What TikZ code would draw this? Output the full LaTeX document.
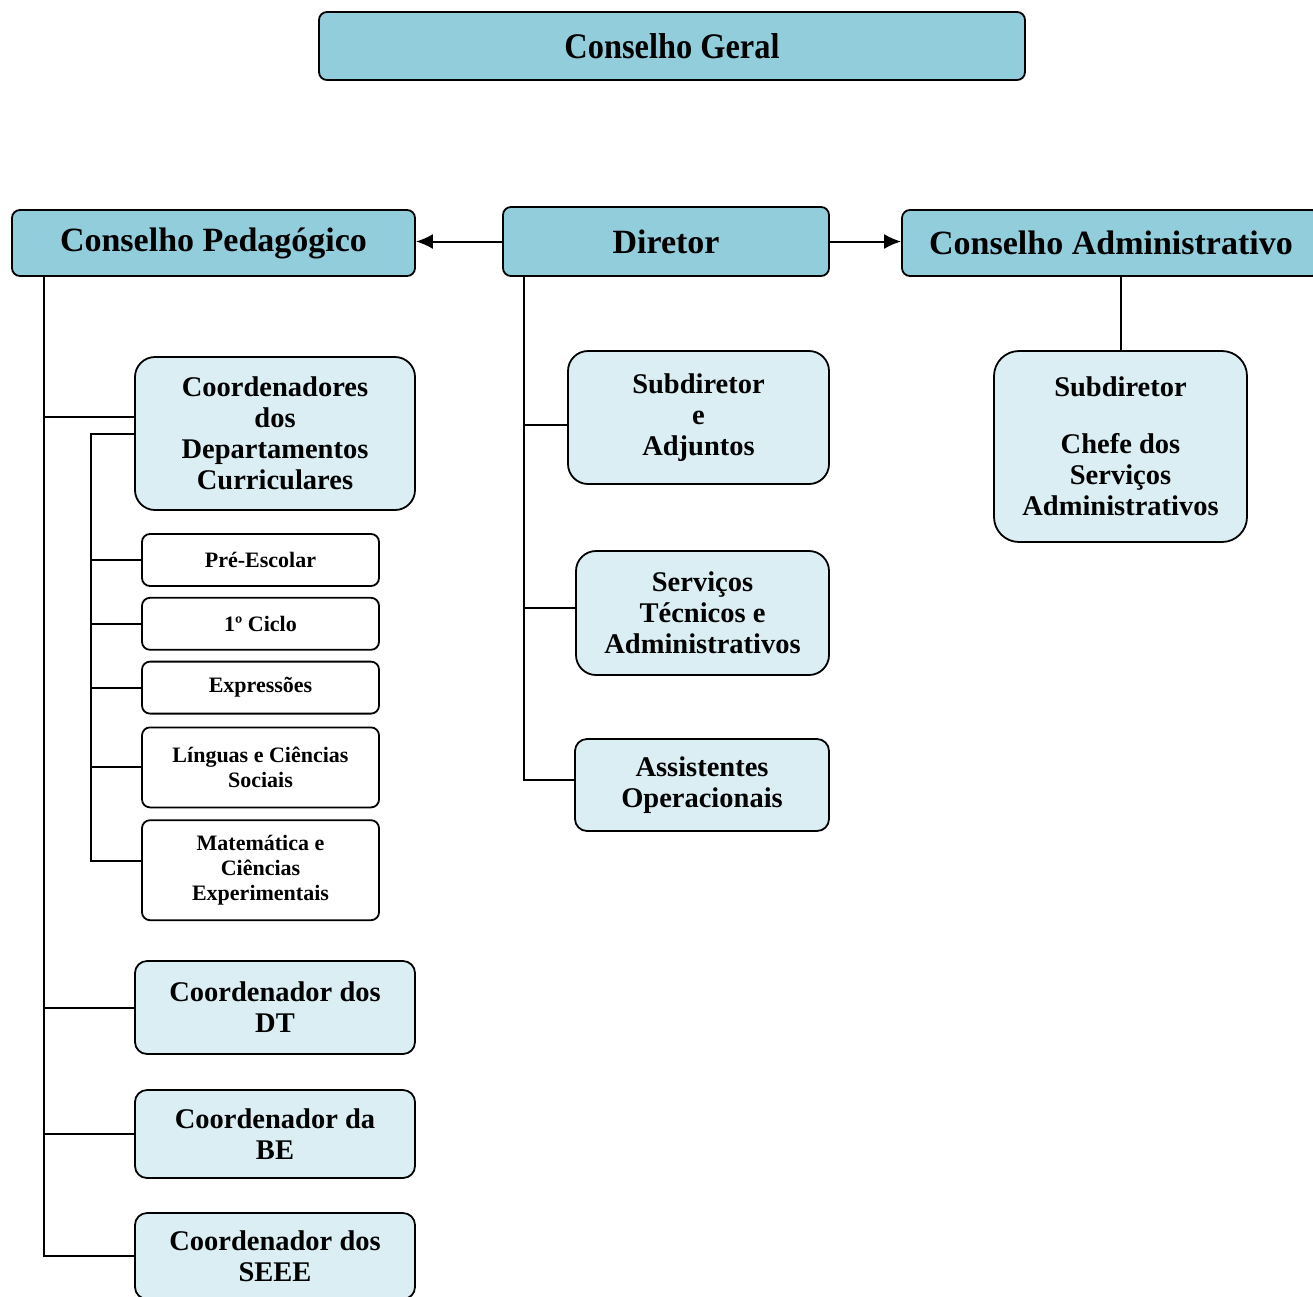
\documentclass[tikz,border=0pt]{standalone}
\usepackage{fontspec}
\setmainfont{Liberation Serif}
\newfontfamily\narrowfont{Liberation Serif}[FakeStretch=0.9]
\usepackage{tikz}
\usetikzlibrary{
    arrows.meta,  % For arrow tips
    calc,         % For coordinate calculations
    positioning   % For relative placement
}

\definecolor{darkteal}{RGB}{146,205,220}
\definecolor{lightteal}{RGB}{218,238,243}

\newcommand\bigsize{\fontsize{34}{38}\selectfont}
\newcommand\midsize{\fontsize{28.5}{31}\selectfont}
\newcommand\smallsize{\fontsize{22}{25}\selectfont}

\begin{document}
\begin{tikzpicture}[
    x=1pt, y=-1pt,  % work in picture pixels, y downwards
    link/.style={line width=2pt},  % Connector lines
    arrowlink/.style={line width=2pt, -{Latex[length=17pt, width=15pt]}}, % Arrows from Diretor
    topbox/.style={draw, line width=1.8pt, rounded corners=8pt, fill=darkteal,
        font=\bigsize\bfseries, inner sep=0pt}, % Top level boxes
    midbox/.style={draw, line width=1.8pt, rounded corners=20pt, fill=lightteal,
        font=\midsize\bfseries, align=center, inner sep=0pt}, % Second level boxes
    subbox/.style={draw, line width=1.8pt, rounded corners=8pt, fill=white,
        font=\smallsize\bfseries, align=center, inner sep=0pt, minimum width=237pt} % Departments
]
    \useasboundingbox (0,0) rectangle (1313,1296);

    % Top level
    \node[topbox, minimum width=706pt, minimum height=68pt, font=\fontsize{36}{40}\narrowfont\bfseries]
        (cg) at (672,46) {Conselho Geral};
    \node[topbox, minimum width=403pt, minimum height=66pt] (cp) at (213.5,243) {Conselho Pedagógico};
    \node[topbox, minimum width=326pt, minimum height=69pt] (dir) at (666,241.5) {Diretor};
    \node[topbox, minimum width=418pt, minimum height=66pt] (ca) at (1111,243) {Conselho Administrativo};

    % Conselho Pedagogico branch
    \node[midbox, minimum width=280pt, minimum height=153pt] (cdc) at (275,433.5)
        {Coordenadores\\dos\\Departamentos\\Curriculares};
    \node[subbox, minimum height=52pt] (pre) at (260.5,560) {Pré-Escolar};
    \node[subbox, minimum height=52pt, below=10pt of pre] (cic) {1º Ciclo};
    \node[subbox, minimum height=52pt, below=10pt of cic] (exp) {Expressões};
    \node[subbox, minimum height=80pt, below=12pt of exp] (lcs) {Línguas e Ciências\\Sociais};
    \node[subbox, minimum height=100pt, below=11pt of lcs] (mce) {Matemática e\\Ciências\\Experimentais};
    \node[midbox, rounded corners=12pt, minimum width=280pt, minimum height=93pt] (cdt) at (275,1007.5)
        {Coordenador dos\\DT};
    \node[midbox, rounded corners=12pt, minimum width=280pt, minimum height=88pt] (cbe) at (275,1134)
        {Coordenador da\\BE};
    \node[midbox, rounded corners=12pt, minimum width=280pt, minimum height=86pt] (cse) at (275,1256)
        {Coordenador dos\\SEEE};

    % Diretor branch
    \node[midbox, minimum width=261pt, minimum height=133pt] (sda) at (698.5,417.5)
        {Subdiretor\\e\\Adjuntos};
    \node[midbox, minimum width=253pt, minimum height=124pt] (ste) at (702.5,613)
        {Serviços\\Técnicos e\\Administrativos};
    \node[midbox, rounded corners=12pt, minimum width=254pt, minimum height=92pt] (aop) at (702,785)
        {Assistentes\\Operacionais};

    % Conselho Administrativo branch
    \node[midbox, rounded corners=25pt, minimum width=253pt, minimum height=191pt] (sca) at (1120.5,446.5)
        {Subdiretor\\[26pt]Chefe dos\\Serviços\\Administrativos};

    % Arrows from Diretor
    \draw[arrowlink] (dir.west) -- (dir.west -| cp.east);
    \draw[arrowlink] (dir.east) -- (dir.east -| ca.west);

    % Trunks
    \coordinate (cpTrunk) at ($(cp.south west)+(33,0)$);
    \coordinate (dirTrunk) at ($(dir.south west)+(22,0)$);
    \coordinate (depTrunk) at ($(cdc.west)+(-43,0)$);

    \draw[link] (cpTrunk) |- ($(cdc.west)+(0,-16.5)$);
    \draw[link] (cpTrunk) |- (cdt.west);
    \draw[link] (cpTrunk) |- (cbe.west);
    \draw[link] (cpTrunk) |- (cse.west);

    \draw[link] (cdc.west) -- (depTrunk) |- ($(mce.west)+(0,-9)$);
    \foreach \d in {pre, cic, exp, lcs}
        \draw[link] (depTrunk |- \d.west) -- (\d.west);

    \draw[link] (dirTrunk) |- ($(aop.west)+(0,-5)$);
    \draw[link] (dirTrunk |- sda.west) ++(0,7.5) -- ($(sda.west)+(0,7.5)$);
    \draw[link] (dirTrunk |- ste.west) ++(0,-5) -- ($(ste.west)+(0,-5)$);

    \draw[link] (sca.north) -- (sca.north |- ca.south);

\end{tikzpicture}
\end{document}
